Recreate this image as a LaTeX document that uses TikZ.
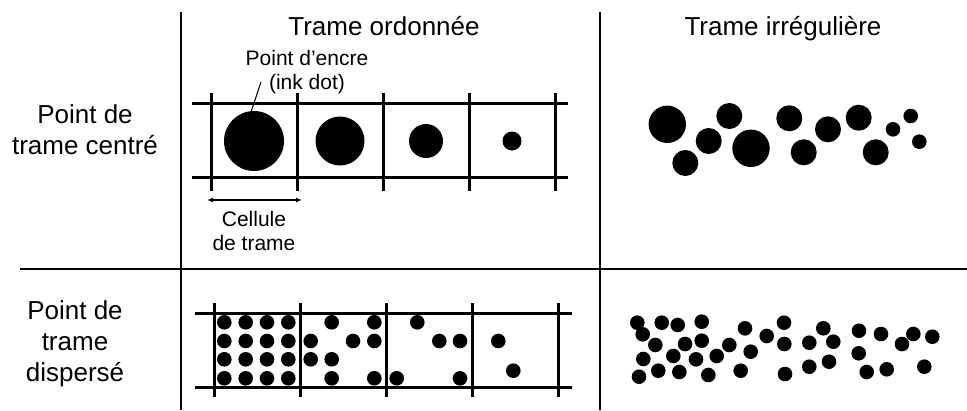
\documentclass[tikz,border=0pt]{standalone}
\usepackage{fontspec}
\setmainfont{Liberation Sans}
\usetikzlibrary{arrows.meta}
\begin{document}
\begin{tikzpicture}[x=1pt,y=-1pt,
  rule/.style={line width=2pt},
  gridline/.style={line width=3pt},
  inkdot/.style={circle,fill=black,inner sep=0pt,minimum size=#1},
  head/.style={font=\fontsize{26}{31}\selectfont,align=center,inner sep=0pt},
  small/.style={font=\fontsize{21}{24.5}\selectfont,align=center,inner sep=0pt}]
\useasboundingbox (0,0) rectangle (967,410);
% dividers
\draw[rule] (181,12)--(181,410);
\draw[rule] (600,12)--(600,410);
\draw[rule] (20,269)--(967,269);
% headings
\node[head,anchor=base] (tord) at (384,35) {Trame ordonnée};
\node[head,anchor=base] (tirr) at (783,35) {Trame irrégulière};
\node[head] (lcent) at (85,130) {Point de\\trame centré};
\node[head] (ldisp) at (75,344) {Point de\\trame\\dispersé};
% ordered grid, centred dots
\foreach \i in {0,...,4}
  \draw[gridline] (211+86*\i,93)--(211+86*\i,191);
\draw[gridline] (192,103)--(568,103);
\draw[gridline] (192,177)--(568,177);
\node[inkdot=60pt] (cdot1) at (254,141) {};
\node[inkdot=49pt] (cdot2) at (340,141) {};
\node[inkdot=34pt] (cdot3) at (426,141) {};
\node[inkdot=19pt] (cdot4) at (512,141) {};
\node[small] (inklabel) at (307,72) {Point d’encre\\(ink dot)};
\coordinate (inktip) at (261,82);
\draw[line width=1pt] (cdot1.95)--(inktip);
\coordinate (cellL) at (207,200);
\coordinate (cellR) at (302,200);
\draw[line width=1.3pt,{Latex[length=6pt,width=5pt]}-{Latex[length=6pt,width=5pt]}] (cellL)--(cellR);
\node[small] (celllabel) at (254,231) {Cellule\\de trame};
% ordered grid, dispersed dots
\foreach \i in {0,...,4}
  \draw[gridline] (214+86*\i,303)--(214+86*\i,397);
\draw[gridline] (195,313)--(572,313);
\draw[gridline] (195,387)--(572,387);
\foreach \x in {224.3,245.7,267,288.3}
  \foreach \y in {322.3,341,359.3,378.3}
    \fill (\x,\y) circle (7.3pt);
\foreach \x/\y in {331.7/322.3,374.3/322.3,310.7/341,353/341,374.3/341,
    310.7/359.3,331.7/359.3,331.7/378.3,374.3/378.3,
    417.3/322.3,439.3/341,460/341,396.7/378.3,460/378.3,
    498.3/341,513.3/370.7}
  \fill (\x,\y) circle (7.3pt);
% irregular, centred
\foreach \x/\y/\r in {667.3/124.3/18.7,685.3/163/13,708.7/141/13,729.3/116/13,
    751/148.3/18.7,789.3/118.3/13,803.7/152.3/13,828/129.3/13,858.7/117.7/13,
    875.7/152.3/13,893/129.3/7.3,910.7/116/7.3,919.3/141.7/7.3}
  \fill (\x,\y) circle (\r pt);
% irregular, dispersed
\foreach \x/\y in {637.3/322.7,661.7/322.7,677.7/325,701.7/321.7,642.7/334.3,
    655.3/345,685/344,701.7/340.7,643.3/359,673.3/356,696/359.3,716.7/356,
    729.3/345,639/376.7,658.3/370.7,679.3/372,708.3/375,745/328.3,766.7/336,
    784/322.7,784.3/344,750.7/351.7,740.7/370.7,785/374,823.3/328.3,
    809.3/342.7,833.3/341.7,809.3/366.7,829/361.7,859/330.7,881/334,
    858.7/353.3,866.7/372,886.7/369.3,913.3/334,902/344,932.3/336.7,924.3/366.7}
  \fill (\x,\y) circle (7.3pt);
\end{tikzpicture}
\end{document}
